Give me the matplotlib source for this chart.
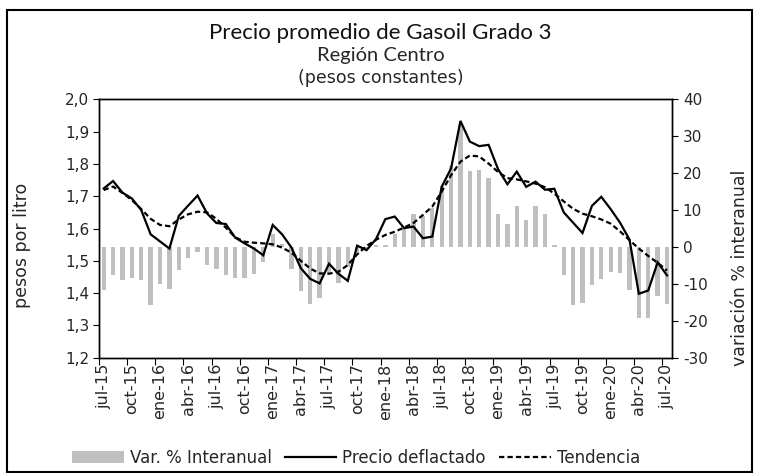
import numpy as np
import matplotlib
matplotlib.use('Agg')
import matplotlib.pyplot as plt
from matplotlib.lines import Line2D
from matplotlib.patches import Patch, Rectangle
from matplotlib.ticker import FuncFormatter, FixedLocator

## -- Series mensuales, jul-15 a jul-20
meses = ['ene', 'feb', 'mar', 'abr', 'may', 'jun', 'jul', 'ago', 'sep', 'oct', 'nov', 'dic']
periodos = []
for k in range(61):
	m = (6 + k) % 12
	a = 15 + (6 + k) // 12
	periodos.append('%s-%d' % (meses[m], a))

# variacion % interanual (eje derecho)
var_interanual = [-11.7, -7.5, -9.0, -8.3, -9.0, -15.8, -10.1, -11.3, -6.3, -3.0,
                  -1.5, -4.8, -6.0, -7.5, -8.3, -8.3, -7.2, -4.1, 3.4, 0.8,
                  -6.0, -12.0, -15.4, -13.7, -7.0, -9.8, -5.5, -1.5, -0.5, 0.5,
                  0.6, 3.4, 4.8, 9.0, 8.5, 10.5, 16.5, 21.8, 33.0, 20.5,
                  20.8, 18.6, 8.8, 6.1, 11.0, 7.2, 11.0, 8.8, 0.4, -7.5,
                  -15.8, -15.2, -10.2, -8.6, -6.8, -7.1, -11.6, -19.2, -19.2, -13.2,
                  -15.4]

# precio deflactado, pesos por litro (eje izquierdo)
precio_deflactado = [1.724, 1.747, 1.711, 1.693, 1.657, 1.582, 1.560, 1.538, 1.639, 1.671,
                     1.702, 1.647, 1.617, 1.614, 1.572, 1.554, 1.538, 1.517, 1.611, 1.582,
                     1.541, 1.477, 1.444, 1.430, 1.491, 1.460, 1.438, 1.547, 1.533, 1.567,
                     1.629, 1.637, 1.601, 1.606, 1.570, 1.575, 1.729, 1.786, 1.933, 1.869,
                     1.855, 1.859, 1.784, 1.737, 1.776, 1.729, 1.745, 1.720, 1.723, 1.650,
                     1.618, 1.586, 1.670, 1.698, 1.660, 1.618, 1.566, 1.398, 1.408, 1.495,
                     1.455]

tendencia = [1.719, 1.730, 1.710, 1.688, 1.660, 1.630, 1.611, 1.607, 1.628, 1.644,
             1.652, 1.650, 1.630, 1.603, 1.573, 1.559, 1.556, 1.554, 1.551, 1.541,
             1.525, 1.500, 1.476, 1.461, 1.460, 1.466, 1.487, 1.520, 1.546, 1.565,
             1.580, 1.590, 1.603, 1.617, 1.642, 1.668, 1.714, 1.765, 1.807, 1.826,
             1.823, 1.801, 1.775, 1.756, 1.752, 1.746, 1.739, 1.728, 1.708, 1.684,
             1.661, 1.646, 1.638, 1.628, 1.615, 1.591, 1.564, 1.538, 1.515, 1.494,
             1.470]

gris_barra = '#BFBFBF'
gris_texto = '#262626'

plt.rcParams.update({'font.size': 10.5, 'font.family': 'DejaVu Sans'})
fig = plt.figure(figsize=(7.58, 4.73), dpi=100)
ax = fig.add_axes([99 / 758., 1 - 357.7 / 473., (671.7 - 99) / 758., (357.7 - 99.3) / 473.])
ax2 = ax.twinx()

x = np.arange(len(periodos))

# barras de variacion en el eje secundario, detras de las lineas
ax2.bar(x, var_interanual, width=0.46, color=gris_barra, linewidth=0)
ax.plot(x, precio_deflactado, color='black', lw=1.6, solid_joinstyle='miter')
ax.plot(x, tendencia, color='black', lw=1.6, linestyle=(0, (2.4, 1.4)))
ax.set_zorder(ax2.get_zorder() + 1)
ax.patch.set_visible(False)

ax.set_xlim(-0.5, len(periodos) - 0.5)
ax.set_ylim(1.2, 2.0)
ax.set_yticks(np.arange(1.2, 2.01, 0.1))
ax.yaxis.set_major_formatter(FuncFormatter(lambda v, p: ('%.1f' % v).replace('.', ',')))
ax2.set_ylim(-30, 40)
ax2.set_yticks(range(-30, 41, 10))
ax2.yaxis.set_major_formatter(FuncFormatter(lambda v, p: '%d' % v))

# marcas entre categorias cada trimestre, etiquetas centradas
ax.xaxis.set_major_locator(FixedLocator(np.arange(-0.5, len(periodos) - 1, 3)))
ax.xaxis.set_minor_locator(FixedLocator(x[::3]))
ax.set_xticklabels([])
ax.set_xticklabels(periodos[::3], minor=True, rotation=90, va='top', ha='center')
ax.tick_params(axis='x', which='major', direction='out', length=5, width=0.8)
ax.tick_params(axis='x', which='minor', length=0, pad=4, labelsize=11.5, labelcolor=gris_texto)
ax.tick_params(axis='y', direction='out', length=4, width=0.8, pad=3, labelsize=11, labelcolor=gris_texto)
ax2.tick_params(axis='y', direction='out', length=4, width=0.8, pad=4, labelsize=11, labelcolor=gris_texto)

for sp in ax.spines.values():
	sp.set_linewidth(1.0)
for sp in ax2.spines.values():
	sp.set_linewidth(1.0)

## -- Titulos y rotulos
fig.text(0.502, 1 - 33 / 473., 'Precio promedio de Gasoil Grado 3', ha='center', va='center',
         fontsize=16, family='Lato', color='#111111')
fig.text(0.502, 1 - 55 / 473., 'Región Centro', ha='center', va='center',
         fontsize=14.5, family='Lato', color=gris_texto)
fig.text(0.502, 1 - 78 / 473., '(pesos constantes)', ha='center', va='center',
         fontsize=12.5, color=gris_texto)
fig.text(22 / 758., 1 - 245 / 473., 'pesos por litro', rotation=90, ha='center', va='center',
         fontsize=12.5, color=gris_texto)
fig.text(740 / 758., 1 - 268 / 473., 'variación % interanual', rotation=90, ha='center', va='center',
         fontsize=12.5, color=gris_texto)

handles = [Patch(facecolor=gris_barra, edgecolor='none'),
           Line2D([], [], color='black', lw=1.6),
           Line2D([], [], color='black', lw=1.6, linestyle=(0, (2.4, 1.4)))]
labels = ['Var. % Interanual', 'Precio deflactado', 'Tendencia']
fig.legend(handles, labels, loc='center', bbox_to_anchor=(356 / 758., 1 - 458 / 473.), ncol=3,
           frameon=False, handlelength=3.1, handletextpad=0.35, columnspacing=0.8,
           fontsize=12, labelcolor=gris_texto)

# marco exterior
fig.add_artist(Rectangle((7 / 758., 1.5 / 473.), (752 - 7) / 758., (471.5 - 10) / 473.,
                         transform=fig.transFigure, fill=False, lw=1.5, edgecolor='black'))

plt.savefig('out.png', dpi=100)
